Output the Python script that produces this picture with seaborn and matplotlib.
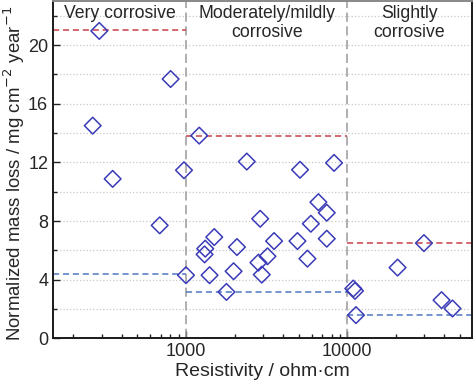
import numpy as np
import pandas as pd
import seaborn as sns
import matplotlib.pyplot as plt
from matplotlib.ticker import MultipleLocator, LogLocator, NullFormatter, FixedFormatter, FixedLocator

# Resistivity (ohm·cm) and normalized mass loss (mg cm^-2 year^-1)
resistivity = [290, 264, 351, 803, 972, 687, 1000,
               1208, 1316, 1304, 1497, 1400, 1782, 1973, 2070, 2382, 5093, 8280,
               6620, 7460, 2884, 5944, 3516, 4909, 7460, 3200, 2812, 5660, 2951,
               10890, 11160, 11320, 20500, 29870, 38400, 44900]
mass_loss = [20.97, 14.51, 10.88, 17.69, 11.47, 7.71, 4.31,
             13.83, 6.12, 5.73, 6.91, 4.31, 3.17, 4.58, 6.23, 12.06, 11.50, 11.97,
             9.29, 8.57, 8.16, 7.82, 6.64, 6.64, 6.80, 5.60, 5.17, 5.44, 4.35,
             3.40, 3.24, 1.59, 4.83, 6.50, 2.61, 2.04]

# class boundaries, max and min levels per class
class_edges = [150, 1000, 10000, 59000]
max_levels = [21.0, 13.83, 6.5]
min_levels = [4.37, 3.17, 1.59]
class_names = ['Very corrosive', 'Moderately/mildly\ncorrosive', 'Slightly\ncorrosive']

df = pd.DataFrame({'Resistivity': resistivity, 'Mass loss': mass_loss})

sns.set_style('ticks')
plt.rcParams['font.family'] = ['Liberation Sans', 'DejaVu Sans']

fig = plt.figure(figsize=(4.74, 3.85), dpi=100)
ax = fig.add_axes([0.112, 0.121, 0.883, 0.876])

ax.set_xscale('log')
ax.set_xlim(class_edges[0], class_edges[-1])
ax.set_ylim(0, 23)

# dotted grid
for yv in np.arange(2, 23, 2):
    ax.axhline(yv, color='#c8c8c8', linestyle=':', linewidth=0.9, zorder=0)

# class separators
for xv in class_edges[1:-1]:
    ax.axvline(xv, color='#9a9a9a', linestyle=(0, (6, 3)), linewidth=1.1, zorder=1)

# max/min levels
for i in range(3):
    ax.hlines(max_levels[i], class_edges[i], class_edges[i + 1], color='#c8404a',
              linestyle=(0, (4, 2.5)), linewidth=1.1, zorder=2)
    ax.hlines(min_levels[i], class_edges[i], class_edges[i + 1], color='#4f78c0',
              linestyle=(0, (4, 2.5)), linewidth=1.1, zorder=2)

sns.scatterplot(data=df, x='Resistivity', y='Mass loss', marker='D', s=72,
                facecolor='none', edgecolor='#3a3ab8', linewidth=1.1, ax=ax, zorder=3)

# class labels
for i, name in enumerate(class_names):
    ax.text(np.sqrt(class_edges[i] * class_edges[i + 1]), 22.75, name, ha='center', va='top',
            fontsize=12.7, linespacing=1.15)

ax.xaxis.set_major_locator(FixedLocator([1000, 10000]))
ax.xaxis.set_major_formatter(FixedFormatter(['1000', '10000']))
ax.xaxis.set_minor_locator(LogLocator(base=10, subs=np.arange(2, 10)))
ax.xaxis.set_minor_formatter(NullFormatter())
ax.yaxis.set_major_locator(MultipleLocator(4))
ax.yaxis.set_minor_locator(MultipleLocator(2))

ax.tick_params(which='both', direction='in', labelsize=13, color='#222222')
ax.tick_params(which='major', length=5, width=1)
ax.tick_params(which='minor', length=3, width=1)

for side in ['left', 'bottom', 'right']:
    ax.spines[side].set_linewidth(1.4)
    ax.spines[side].set_color('#1a1a1a')
ax.spines['top'].set_linewidth(1.4)
ax.spines['top'].set_color('#888888')

ax.set_xlabel('Resistivity / ohm·cm', fontsize=14, labelpad=2)
ax.set_ylabel('Normalized mass loss / mg cm$^{-2}$ year$^{-1}$', fontsize=13.4, labelpad=2)
ax.yaxis.set_label_coords(-0.062, 0.49)

fig.savefig('out.png', dpi=100)
